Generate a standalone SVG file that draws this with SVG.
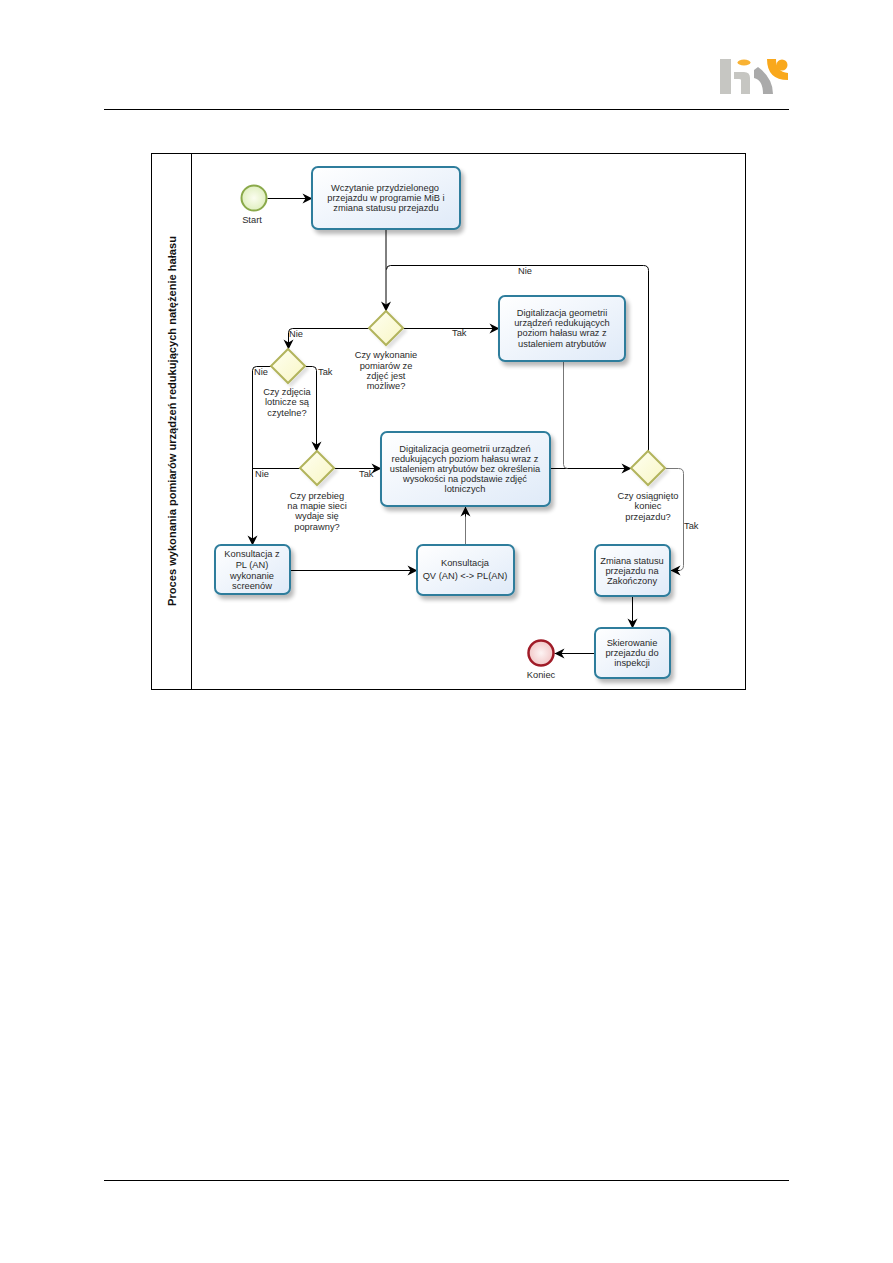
<svg xmlns="http://www.w3.org/2000/svg" width="893" height="1263" viewBox="0 0 893 1263">
<style>
text{font-family:"Liberation Sans",Arial,sans-serif;font-size:9.3px;fill:#2a2a2a;text-anchor:middle}
.task{fill:url(#tg);stroke:#2e7d9c;stroke-width:2;filter:url(#sh)}
.gw{fill:url(#gg);stroke:#b2b45c;stroke-width:2;filter:url(#sh2)}
.c{fill:none;stroke:#000;stroke-width:1;marker-end:url(#a)}
.g{fill:none;stroke:#777;stroke-width:1}
.l{text-anchor:start}
</style>
<defs>
<linearGradient id="tg" x1="0" y1="0" x2="1" y2="1"><stop offset="0" stop-color="#fff"/><stop offset="1" stop-color="#dfeaf8"/></linearGradient>
<linearGradient id="gg" x1="0" y1="0" x2="1" y2="1"><stop offset="0" stop-color="#fffff2"/><stop offset="1" stop-color="#f8f6c4"/></linearGradient>
<radialGradient id="sg"><stop offset="0" stop-color="#fbfdf0"/><stop offset="1" stop-color="#e0efc0"/></radialGradient>
<radialGradient id="eg"><stop offset="0" stop-color="#fdf4f4"/><stop offset="1" stop-color="#f2c8c8"/></radialGradient>
<filter id="sh" x="-15%" y="-15%" width="135%" height="140%"><feGaussianBlur in="SourceAlpha" stdDeviation="2.2"/><feOffset dx="3" dy="4"/><feComponentTransfer><feFuncA type="linear" slope="0.28"/></feComponentTransfer><feMerge><feMergeNode/><feMergeNode in="SourceGraphic"/></feMerge></filter>
<filter id="sh2" x="-20%" y="-20%" width="150%" height="150%"><feGaussianBlur in="SourceAlpha" stdDeviation="1.5"/><feOffset dx="3" dy="3"/><feComponentTransfer><feFuncA type="linear" slope="0.12"/></feComponentTransfer><feMerge><feMergeNode/><feMergeNode in="SourceGraphic"/></feMerge></filter>
<marker id="a" markerUnits="userSpaceOnUse" markerWidth="12" markerHeight="12" refX="10" refY="5" orient="auto" overflow="visible"><path d="M0 0L10 5L0 10L3 5Z" fill="#000"/></marker>
</defs>
<rect width="893" height="1263" fill="#fff"/>
<g id="header">
<rect x="720" y="59" width="11" height="35" fill="#c6c6c2"/>
<ellipse cx="744" cy="62.500" rx="6.500" ry="3" fill="#f9b233"/>
<path d="M734 72H744Q750 72 750 78V94H741V80Q741 79 739 79H734Z" fill="#c6c6c2"/>
<path d="M754 70L758 67Q773 78 773 94H763Q763 80 754 78Z" fill="#aaa"/>
<path d="M767 59H776Q776 72 788 73V80Q767 80 767 59Z" fill="#f9a81c"/>
<circle cx="782" cy="65" r="5.500" fill="#f9a81c"/>
<path d="M104 109.500H789" stroke="#000" stroke-width="1"/>
<path d="M104 1180.500H789" stroke="#000" stroke-width="1"/>
</g>
<g id="pool">
<rect x="151.500" y="153.500" width="594" height="536" fill="#fff" stroke="#000" stroke-width="1"/>
<path d="M191.500 153.500V689.500" stroke="#000" stroke-width="1"/>
<text transform="translate(176 421) rotate(-90)" style="font-weight:bold;font-size:11.100px;fill:#111">Proces wykonania pomiarów urządzeń redukujących natężenie hałasu</text>
</g>
<g id="connectors" transform="translate(0.500 0.500)">
<path class="c" d="M267 198H312"/>
<path class="c" d="M385.500 229V311"/>
<path class="c" d="M403 328H499"/>
<path class="c" d="M369 328H292Q288 328 288 332V349"/>
<path class="c" d="M271 366H256Q252 366 252 370V545"/>
<path class="c" d="M305 366H312Q316 366 316 370V451"/>
<path class="c" style="marker-end:none" d="M300 468H252"/>
<path class="c" d="M334 468H381"/>
<path class="c" d="M550 468H631"/>
<path class="g" d="M563 361V464Q563 468 567 468"/>
<path class="c" style="marker-end:none" d="M648 451V270Q648 265 643 265H390Q386 265 386 269"/>
<path class="g" d="M665 468H678Q683 468 683 473V565Q683 570 678 570"/>
<path class="c" d="M679 570H670"/>
<path class="c" d="M290 570H417"/>
<path class="g" d="M465 545V515"/>
<path class="c" d="M465 516V506"/>
<path class="c" d="M632 596V628"/>
<path class="c" d="M595 653H554"/>
</g>
<g id="start"><circle cx="254" cy="198" r="12.500" fill="url(#sg)" stroke="#8aa94a" stroke-width="2"/><text x="252" y="223">Start</text></g>
<g id="task1"><rect class="task" x="312" y="167" width="148" height="62" rx="6"/><text x="385" y="191">Wczytanie przydzielonego</text><text x="386" y="201">przejazdu w programie MiB i</text><text x="386" y="211">zmiana statusu przejazdu</text></g>
<g id="gw1"><path class="gw" d="M386 311L403 328L386 345L369 328Z"/><text x="386" y="358">Czy wykonanie</text><text x="386" y="369">pomiarów ze</text><text x="386" y="379">zdjęć jest</text><text x="386" y="389">możliwe?</text></g>
<g id="gw2"><path class="gw" d="M288 349L305 366L288 383L271 366Z"/><text x="287" y="395">Czy zdjęcia</text><text x="287" y="405">lotnicze są</text><text x="287" y="416">czytelne?</text></g>
<g id="gw3"><path class="gw" d="M317 451L334 468L317 485L300 468Z"/><text x="317" y="499">Czy przebieg</text><text x="317" y="509">na mapie sieci</text><text x="317" y="519">wydaje się</text><text x="317" y="530">poprawny?</text></g>
<g id="gw4"><path class="gw" d="M648 451L665 468L648 485L631 468Z"/><text x="648" y="499">Czy osiągnięto</text><text x="648" y="509">koniec</text><text x="648" y="520">przejazdu?</text></g>
<g id="task2"><rect class="task" x="499" y="296" width="126" height="65" rx="6"/><text x="562" y="316">Digitalizacja geometrii</text><text x="562" y="326">urządzeń redukujących</text><text x="562" y="336">poziom hałasu wraz z</text><text x="562" y="347">ustaleniem  atrybutów</text></g>
<g id="task3"><rect class="task" x="381" y="432" width="169" height="74" rx="6"/><text x="465" y="452">Digitalizacja geometrii urządzeń</text><text x="465" y="462">redukujących poziom hałasu wraz z</text><text x="465" y="472">ustaleniem  atrybutów bez określenia</text><text x="465" y="482">wysokości na podstawie  zdjęć</text><text x="465" y="492">lotniczych</text></g>
<g id="task4"><rect class="task" x="215" y="545" width="75" height="49" rx="6"/><text x="252" y="557">Konsultacja z</text><text x="252" y="568">PL (AN)</text><text x="252" y="579">wykonanie</text><text x="252" y="589">screenów</text></g>
<g id="task5"><rect class="task" x="417" y="545" width="97" height="50" rx="6"/><text x="465" y="566">Konsultacja</text><text x="465" y="579">QV (AN) &lt;-&gt; PL(AN)</text></g>
<g id="task6"><rect class="task" x="595" y="545" width="75" height="51" rx="6"/><text x="632" y="564">Zmiana statusu</text><text x="632" y="574">przejazdu na</text><text x="632" y="584">Zakończony</text></g>
<g id="task7"><rect class="task" x="595" y="628" width="75" height="50" rx="6"/><text x="632" y="646">Skierowanie</text><text x="632" y="656">przejazdu do</text><text x="632" y="666">inspekcji</text></g>
<g id="end"><circle cx="541" cy="653" r="12.500" fill="url(#eg)" stroke="#a01c28" stroke-width="2.500"/><text x="541" y="678">Koniec</text></g>
<g id="labels">
<text class="l" x="289" y="337">Nie</text>
<text class="l" x="452" y="336">Tak</text>
<text class="l" x="254" y="375">Nie</text>
<text class="l" x="318" y="375">Tak</text>
<text class="l" x="255" y="477">Nie</text>
<text class="l" x="359" y="477">Tak</text>
<text class="l" x="518" y="274">Nie</text>
<text class="l" x="684" y="529">Tak</text>
</g>
</svg>
